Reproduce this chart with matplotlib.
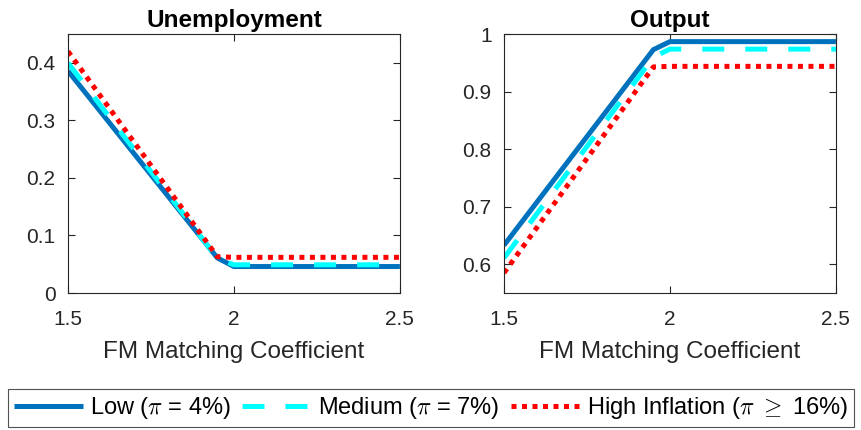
import matplotlib.pyplot as plt

plt.rcParams['font.family'] = ['Liberation Sans', 'DejaVu Sans']
plt.rcParams['mathtext.fontset'] = 'cm'

# FM matching coefficient grid (kink points)
fm = [1.5, 1.95, 2.0, 2.5]

unemp_low = [0.386, 0.061, 0.046, 0.046]
unemp_med = [0.400, 0.060, 0.049, 0.049]
unemp_high = [0.420, 0.063, 0.062, 0.062]

output_low = [0.633, 0.973, 0.987, 0.987]
output_med = [0.611, 0.960, 0.974, 0.974]
output_high = [0.585, 0.943, 0.944, 0.944]

labels = [r'Low ($\pi$ = 4%)', r'Medium ($\pi$ = 7%)', r'High Inflation ($\pi$ $\geq$ 16%)']

dark = '#262626'
fig = plt.figure(figsize=(8.62, 4.30), dpi=100)
ax1 = fig.add_axes([0.0789, 0.3186, 0.385, 0.602])
ax2 = fig.add_axes([0.5847, 0.3186, 0.385, 0.602])


def dibujar(ax, low, med, high, titulo, ylim, yticks, ylabels):
    ax.plot(fm, low, color='#0072BD', lw=3.6, solid_capstyle='butt')
    ax.plot(fm, med, color='cyan', lw=3.6, dashes=(4.4, 4.2))
    ax.plot(fm, high, color='red', lw=3.6, dashes=(1.0, 1.1))
    ax.set_xlim(1.5, 2.5)
    ax.set_ylim(*ylim)
    ax.set_xticks([1.5, 2, 2.5])
    ax.set_xticklabels(['1.5', '2', '2.5'])
    ax.set_yticks(yticks)
    ax.set_yticklabels(ylabels)
    ax.tick_params(direction='in', top=True, right=True, labelsize=15,
                   colors=dark, length=5, width=0.8)
    ax.tick_params(axis='x', pad=12)
    ax.tick_params(axis='y', pad=9)
    for s in ax.spines.values():
        s.set_color(dark)
        s.set_linewidth(0.8)
    ax.set_title(titulo, fontsize=17.5, fontweight='bold', pad=5)
    ax.set_xlabel('FM Matching Coefficient', fontsize=17.5, color=dark, labelpad=9)


dibujar(ax1, unemp_low, unemp_med, unemp_high, 'Unemployment', (0, 0.45),
        [0, 0.1, 0.2, 0.3, 0.4], ['0', '0.1', '0.2', '0.3', '0.4'])
dibujar(ax2, output_low, output_med, output_high, 'Output', (0.55, 1.0),
        [0.6, 0.7, 0.8, 0.9, 1.0], ['0.6', '0.7', '0.8', '0.9', '1'])

handles = ax1.get_lines()
leg = fig.legend(handles, labels, loc='center', bbox_to_anchor=(0.5, 0.051),
                 ncol=3, fontsize=17, handlelength=2.9, columnspacing=0.5,
                 handletextpad=0.3, frameon=True, fancybox=False,
                 borderpad=0.25, borderaxespad=0)
leg.get_frame().set_edgecolor(dark)
leg.get_frame().set_linewidth(0.8)

fig.savefig('out.png', dpi=100)
